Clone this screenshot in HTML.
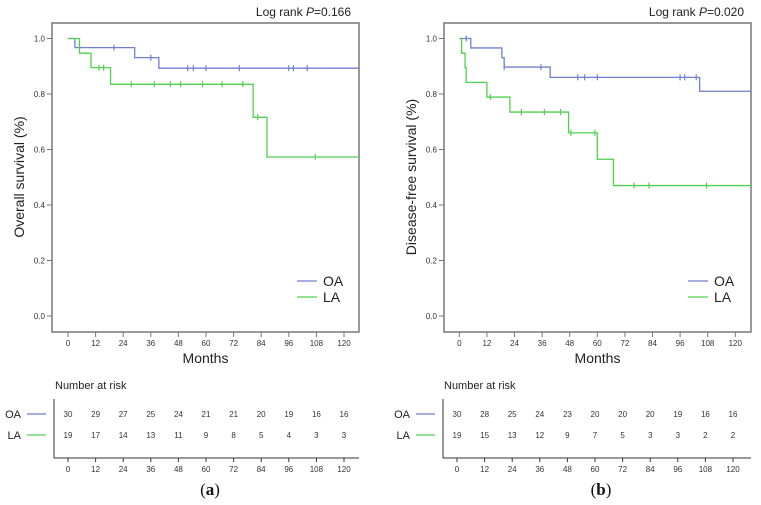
<!DOCTYPE html>
<html><head><meta charset="utf-8"><style>
body{margin:0;background:#fff;}
svg{display:block;font-family:"Liberation Sans",sans-serif;}
</style></head><body>
<svg id="chart" width="761" height="505" viewBox="0 0 761 505"></svg>
<script>
const xTicks=[0,12,24,36,48,60,72,84,96,108,120];
const yTicks=[0.0,0.2,0.4,0.6,0.8,1.0];
const yTickLabels=["0.0","0.2","0.4","0.6","0.8","1.0"];
// panel a
const aOATimes=[0,3,29,39.5];
const aOASurv=[1.0,0.967,0.931,0.893];
const aOACensT=[20,36,52,54.5,60,74.5,96,98,104];
const aLATimes=[0,5,10,18.5,80.5,86.5];
const aLASurv=[1.0,0.947,0.895,0.835,0.716,0.573];
const aLACensT=[13.5,15.5,27.5,37.5,44.5,49,58.5,67,76,82.5,107.5];
const aRiskOA=[30,29,27,25,24,21,21,20,19,16,16];
const aRiskLA=[19,17,14,13,11,9,8,5,4,3,3];
// panel b
const bOATimes=[0,5,18.5,19.5,39.5,104.5];
const bOASurv=[1.0,0.966,0.931,0.897,0.86,0.81];
const bOACensT=[3,19.5,35.5,51.5,54.5,60,96,98,103];
const bLATimes=[0,1,2.5,3,12,22,47.5,60,67];
const bLASurv=[1.0,0.947,0.895,0.842,0.789,0.735,0.66,0.565,0.47];
const bLACensT=[13.5,27,37,44,48.5,59,76,82.5,107.5];
const bRiskOA=[30,28,25,24,23,20,20,20,19,16,16];
const bRiskLA=[19,15,13,12,9,7,5,3,3,2,2];

const NS="http://www.w3.org/2000/svg";
const svg=document.getElementById('chart');
const BLUE="#6f7fd2", GREEN="#4fd04f", AX="#777";
function mk(tag,attrs,parent,text){const e=document.createElementNS(NS,tag);for(const k in attrs)e.setAttribute(k,attrs[k]);if(text!==undefined)e.textContent=text;(parent||svg).appendChild(e);return e;}
function survAt(times,surv,t){let s=surv[0];for(let i=0;i<times.length;i++){if(times[i]<=t)s=surv[i];}return s;}

function panel(cfg){
  const g=mk('g',{});
  
  
  const x0=cfg.x0, pxm=2.3, yTop=38.5, yBot=316;
  const X=t=>x0+t*pxm, Y=v=>yBot-(yBot-yTop)*v;
  const fx1=cfg.fx1, fx2=cfg.fx2, tmax=(fx2-x0)/pxm;
  const fr=mk('rect',{x:fx1,y:23,width:fx2-fx1,height:309,fill:'none',stroke:AX,'stroke-width':1.5},g);
  
  yTicks.forEach((v,i)=>{
    mk('line',{x1:fx1-5,x2:fx1,y1:Y(v),y2:Y(v),stroke:AX},g);
    const t=mk('text',{x:fx1-7,y:Y(v)+3,'font-size':8,'text-anchor':'end',fill:'#333'},g,yTickLabels[i]);
    
  });
  xTicks.forEach(v=>{
    mk('line',{x1:X(v),x2:X(v),y1:332,y2:337,stroke:AX},g);
    const t=mk('text',{x:X(v),y:346,'font-size':8,'text-anchor':'middle',fill:'#333'},g,v);
    
  });
  const xt=mk('text',{x:(fx1+fx2)/2,y:363,'font-size':14,'text-anchor':'middle',fill:'#222'},g,'Months');
  
  const yt=mk('text',{x:0,y:0,'font-size':14,'text-anchor':'middle',fill:'#222',transform:`translate(${fx1-28},177) rotate(-90)`},g,cfg.ylabel);
  
  const lr=mk('text',{x:cfg.lrx,y:16,'font-size':12,'text-anchor':'end',fill:'#222'},g);
  
  lr.innerHTML='Log rank <tspan font-style="italic">P</tspan>='+cfg.p;
  function series(times,surv,cens,col,nm){
    let d=`M${X(0)},${Y(surv[0])}`;
    for(let i=1;i<times.length;i++){d+=` H${X(times[i])} V${Y(surv[i])}`;}
    d+=` H${X(tmax)}`;
    const p=mk('path',{d:d,fill:'none',stroke:col,'stroke-width':1.3},g);
    
    cens.forEach(t=>{
      const c=mk('line',{x1:X(t),x2:X(t),y1:Y(survAt(times,surv,t))-3,y2:Y(survAt(times,surv,t))+3,stroke:col,'stroke-width':1.2},g);
      
    });
  }
  series(cfg.oaT,cfg.oaS,cfg.oaC,BLUE,'oa');
  series(cfg.laT,cfg.laS,cfg.laC,GREEN,'la');
  const lx=cfg.legx;
  [['OA',BLUE,281],['LA',GREEN,297]].forEach(([n,c,yy])=>{
    const le=mk('g',{},g);
    mk('line',{x1:lx,x2:lx+20,y1:yy,y2:yy,stroke:c,'stroke-width':1.3},le);
    mk('text',{x:lx+26,y:yy+5,'font-size':14,fill:'#222'},le,n);
  });
  // risk table
  const rx0=cfg.rx0, rax=cfg.rax, rpx=(cfg.rx120-rx0)/120;
  const RX=t=>rx0+t*rpx;
  const rt=mk('g',{},g);
  mk('text',{x:rax+1,y:389,'font-size':11,fill:'#222'},rt,'Number at risk');
  mk('line',{x1:rax,x2:rax,y1:399,y2:458,stroke:'#333','stroke-width':1},rt);
  mk('line',{x1:rax,x2:fx2,y1:458,y2:458,stroke:'#333','stroke-width':1},rt);
  xTicks.forEach(v=>{
    mk('line',{x1:RX(v),x2:RX(v),y1:458,y2:462,stroke:'#333'},rt);
    mk('text',{x:RX(v),y:472,'font-size':8,'text-anchor':'middle',fill:'#333'},rt,v);
  });
  [['OA',BLUE,414,cfg.rOA],['LA',GREEN,435,cfg.rLA]].forEach(([n,c,yy,vals])=>{
    const tl=mk('text',{x:rax-33,y:yy+4,'font-size':11,'text-anchor':'end',fill:'#222'},rt,n);
    
    mk('line',{x1:rax-27,x2:rax-8,y1:yy,y2:yy,stroke:c,'stroke-width':1.2},rt);
    vals.forEach((v,i)=>{mk('text',{x:RX(xTicks[i]),y:yy+3,'font-size':8,'text-anchor':'middle',fill:'#333'},rt,v);});
  });
  const pl=mk('text',{x:cfg.labx,y:495,'font-size':17,'text-anchor':'middle',fill:'#111','font-family':'Liberation Serif, serif'},g);
  pl.innerHTML='(<tspan font-weight="bold">'+cfg.lab+'</tspan>)';
  
}
panel({name:'panel-a-overall-survival',x0:68,fx1:52,fx2:359,ylabel:'Overall survival (%)',lrx:351,p:'0.166',
  oaT:aOATimes,oaS:aOASurv,oaC:aOACensT,laT:aLATimes,laS:aLASurv,laC:aLACensT,legx:297,
  rx0:68,rx120:344,rax:54,rOA:aRiskOA,rLA:aRiskLA,labx:210,lab:'a'});
panel({name:'panel-b-disease-free-survival',x0:459.3,fx1:444,fx2:751,ylabel:'Disease-free survival (%)',lrx:744,p:'0.020',
  oaT:bOATimes,oaS:bOASurv,oaC:bOACensT,laT:bLATimes,laS:bLASurv,laC:bLACensT,legx:688,
  rx0:457,rx120:733,rax:443,rOA:bRiskOA,rLA:bRiskLA,labx:601,lab:'b'});
</script>
</body></html>
